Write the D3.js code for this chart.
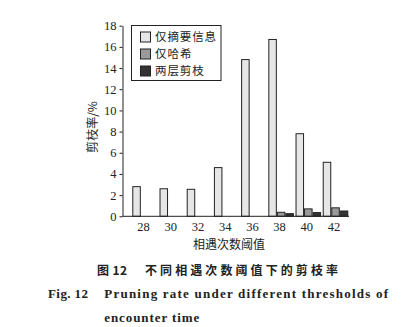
<!DOCTYPE html>
<html><head><meta charset="utf-8">
<script src="https://cdn.jsdelivr.net/npm/d3@7/dist/d3.min.js"></script>
<style>body{margin:0;background:#fff}svg{display:block}</style>
</head><body>
<svg id="c" width="402" height="327"></svg>
<script>
const thresholds = ["28","30","32","34","36","38","40","42"];
const seriesNames = ["仅摘要信息","仅哈希","两层剪枝"];
const summaryOnly = [2.8, 2.6, 2.55, 4.6, 14.8, 16.7, 7.8, 5.1];
const hashOnly    = [0, 0, 0, 0, 0, 0.38, 0.7, 0.8];
const twoLayer    = [0, 0, 0, 0, 0, 0.25, 0.35, 0.5];
const yTicks = [0,2,4,6,8,10,12,14,16,18];
const colors = ["#e6e6e6","#9a9a9a","#333333"];

const series = [summaryOnly, hashOnly, twoLayer];
const svg = d3.select("#c");
const axisX = 122.5, plotBottom = 216.3, plotTop = 25.7;

const x0 = d3.scaleBand().domain(thresholds).range([132.3, 348.3]).paddingInner(0.06).paddingOuter(0);
const x1 = d3.scaleBand().domain(d3.range(3)).range([0, x0.bandwidth()]).padding(0);
const y = d3.scaleLinear().domain([0,18]).range([plotBottom, plotTop]);

// bars
const g = svg.append("g");
thresholds.forEach((t,i)=>{
  series.forEach((s,k)=>{
    if (s[i] <= 0) return;
    g.append("rect")
      .attr("x", x0(t)+x1(k)+0.5)
      .attr("y", y(s[i]))
      .attr("width", x1.bandwidth()-1)
      .attr("height", y(0)-y(s[i]))
      .attr("fill", colors[k]).attr("stroke","#222").attr("stroke-width",1);
  });
});

// y axis
const ya = svg.append("g").attr("transform",`translate(${axisX},0)`)
  .call(d3.axisLeft(y).tickValues(yTicks).tickSize(3).tickPadding(3).tickSizeOuter(0));
ya.select(".domain").attr("stroke","#222");
ya.selectAll(".tick line").attr("stroke","#222");
ya.selectAll("text").attr("font-family","'Liberation Serif',serif").attr("font-size","12.5px").attr("fill","#222");

// x axis
const xa = svg.append("g").attr("transform",`translate(0,${plotBottom})`)
  .call(d3.axisBottom(x0).tickSize(0).tickPadding(6));
xa.select(".domain").attr("d",`M${axisX},0H349`).attr("stroke","#222");
xa.selectAll(".tick").attr("transform", d=>`translate(${x0(d)+x0.bandwidth()/2-1.5},0)`);
xa.selectAll("text").attr("font-family","'Liberation Serif',serif").attr("font-size","12.5px").attr("fill","#222");

// axis titles
svg.append("text").attr("transform","translate(97,127) rotate(-90)")
  .attr("text-anchor","middle").attr("font-family","'Noto Sans CJK SC',sans-serif")
  .attr("font-size","12px").attr("fill","#222").text("剪枝率/%");
svg.append("text").attr("x",229).attr("y",248.5)
  .attr("text-anchor","middle").attr("font-family","'Noto Sans CJK SC',sans-serif")
  .attr("font-size","12px").attr("fill","#222").text("相遇次数阈值");

// legend
const lg = svg.append("g");
lg.append("rect").attr("x",131.5).attr("y",25.5).attr("width",89.5).attr("height",55)
  .attr("fill","#fff").attr("stroke","#222").attr("stroke-width",1);
seriesNames.forEach((n,k)=>{
  const cy = 37 + k*17;
  lg.append("rect").attr("x",140.5).attr("y",cy-5).attr("width",10).attr("height",10)
    .attr("fill",colors[k]).attr("stroke","#222");
  lg.append("text").attr("x",155).attr("y",cy+4.2)
    .attr("font-family","'Noto Sans CJK SC',sans-serif").attr("font-size","11.5px")
    .attr("fill","#222").attr("textLength", n.length*12.2).attr("lengthAdjust","spacing").text(n);
});

// captions
const cap = svg.append("g").attr("fill","#222");
cap.append("text").attr("x",97).attr("y",275).attr("font-family","'Noto Sans CJK SC',sans-serif")
  .attr("font-weight","bold").attr("font-size","12px").attr("textLength",30).attr("lengthAdjust","spacing").text("图 12");
cap.append("text").attr("x",145).attr("y",275).attr("font-family","'Noto Sans CJK SC',sans-serif")
  .attr("font-weight","bold").attr("font-size","12px").attr("textLength",193).attr("lengthAdjust","spacing").text("不同相遇次数阈值下的剪枝率");
cap.append("text").attr("x",48).attr("y",297.5).attr("font-family","'Liberation Serif',serif")
  .attr("font-weight","bold").attr("font-size","13px").attr("textLength",40).attr("lengthAdjust","spacing").text("Fig. 12");
cap.append("text").attr("x",104.3).attr("y",297.5).attr("font-family","'Liberation Serif',serif")
  .attr("font-weight","bold").attr("font-size","13px").attr("textLength",283.7).attr("lengthAdjust","spacing").text("Pruning rate under different thresholds of");
cap.append("text").attr("x",104.3).attr("y",322).attr("font-family","'Liberation Serif',serif")
  .attr("font-weight","bold").attr("font-size","13px").attr("textLength",95).attr("lengthAdjust","spacing").text("encounter time");
</script>
</body></html>
